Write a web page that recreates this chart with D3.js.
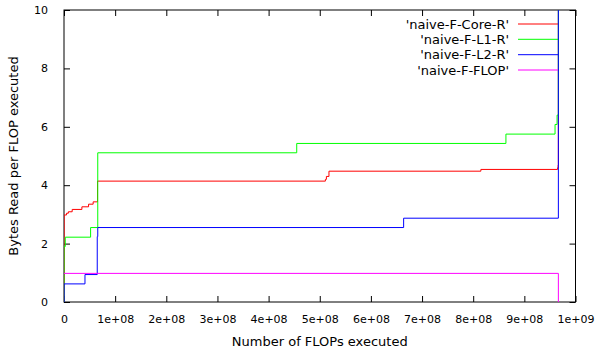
<!DOCTYPE html>
<html>
<head>
<meta charset="utf-8">
<script src="https://cdn.jsdelivr.net/npm/d3@7"></script>
<style>
    body { margin: 0; background: #fff; }
    svg { display: block; font-family: "DejaVu Sans", sans-serif; }
</style>
</head>
<body>
<div id="chart"></div>
<script>

// series names
const seriesNames = ["'naive-F-Core-R'", "'naive-F-L1-R'", "'naive-F-L2-R'", "'naive-F-FLOP'"];
const seriesColors = ['#ff0000', '#00ff00', '#0000ff', '#ff00ff'];

// step points: flops executed / bytes read per flop
const coreFlops = [0, 0.02e7, 0.5e7, 0.85e7, 1.6e7, 3.5e7, 4.8e7, 5.7e7, 6.55e7, 5.11e8, 5.13e8, 5.18e8, 8.15e8, 9.65e8, 9.66e8, 9.665e8];
const coreBytes = [0, 2.98, 3.04, 3.09, 3.17, 3.26, 3.35, 3.43, 4.14, 4.2, 4.3, 4.48, 4.54, 4.6, 4.69, 12];

const l1Flops = [0, 0.01e7, 0.25e7, 5.2e7, 6.6e7, 4.55e8, 8.64e8, 9.6e8, 9.64e8, 9.665e8];
const l1Bytes = [0, 1.9, 2.22, 2.55, 5.11, 5.43, 5.75, 6.08, 6.4, 12];

const l2Flops = [0, 0.02e7, 4.1e7, 6.5e7, 6.6e7, 6.64e8, 9.665e8];
const l2Bytes = [0, 0.62, 0.94, 2.24, 2.55, 2.87, 12];

const flopFlops = [0, 9.665e8];
const flopBytes = [0.98, 0];

// tick labels
const xTicks = [0, 1e8, 2e8, 3e8, 4e8, 5e8, 6e8, 7e8, 8e8, 9e8, 1e9];
const yTicks = [0, 2, 4, 6, 8, 10];

const width = 602;
const height = 351;
const margins = { top: 10, bottom: 49, left: 64, right: 26.5 };

const svg = d3.select('#chart')
    .append('svg')
    .attr('width', width)
    .attr('height', height);

// scales
const xScale = d3.scaleLinear()
    .domain([0, 1e9])
    .range([margins.left, width - margins.right]);

const yScale = d3.scaleLinear()
    .domain([0, 10])
    .range([height - margins.bottom, margins.top]);

const x0 = xScale.range()[0], x1 = xScale.range()[1];
const y0 = yScale.range()[0], y1 = yScale.range()[1];

// axes (inward ticks, mirrored on top and right)
const tickFormat = d => d === 0 ? '0' : d3.format('.0e')(d).replace(/e([+-])(\d)$/, 'e$10$2');

const xAxisGroup = svg.append('g')
    .attr('class', 'axis-group')
    .attr('transform', `translate(0,${y0})`)
    .call(d3.axisBottom(xScale).tickValues(xTicks).tickSizeInner(-6).tickSizeOuter(0).tickPadding(13).tickFormat(tickFormat));

const yAxisGroup = svg.append('g')
    .attr('class', 'axis-group')
    .attr('transform', `translate(${x0},0)`)
    .call(d3.axisLeft(yScale).tickValues(yTicks).tickSizeInner(-6).tickSizeOuter(0).tickPadding(16));

const topAxisGroup = svg.append('g')
    .attr('class', 'axis-group')
    .attr('transform', `translate(0,${y1})`)
    .call(d3.axisTop(xScale).tickValues(xTicks).tickSizeInner(-6).tickSizeOuter(0).tickFormat(''));

const rightAxisGroup = svg.append('g')
    .attr('class', 'axis-group')
    .attr('transform', `translate(${x1},0)`)
    .call(d3.axisRight(yScale).tickValues(yTicks).tickSizeInner(-6).tickSizeOuter(0).tickFormat(''));

svg.selectAll('.axis-group .domain').remove();
svg.selectAll('.axis-group line').attr('stroke', '#000');
svg.selectAll('.axis-group text')
    .attr('fill', '#000')
    .style('font-family', '"DejaVu Sans", sans-serif')
    .style('font-size', '11px');

// border
svg.append('rect')
    .attr('x', x0)
    .attr('y', y1)
    .attr('width', x1 - x0)
    .attr('height', y0 - y1)
    .attr('fill', 'none')
    .attr('stroke', '#000')
    .attr('stroke-width', 1);

// axis labels
svg.append('text')
    .attr('x', (x0 + x1) / 2)
    .attr('y', 346)
    .attr('text-anchor', 'middle')
    .style('font-size', '13px')
    .text('Number of FLOPs executed');

svg.append('text')
    .attr('transform', `translate(18,${(y0 + y1) / 2}) rotate(-90)`)
    .attr('text-anchor', 'middle')
    .style('font-size', '13px')
    .text('Bytes Read per FLOP executed');

// clip
svg.append('clipPath')
    .attr('id', 'plot-clip')
    .append('rect')
    .attr('x', x0)
    .attr('y', y1)
    .attr('width', x1 - x0)
    .attr('height', y0 - y1);

const lineGenerator = d3.line()
    .curve(d3.curveStepAfter)
    .x(d => xScale(d[0]))
    .y(d => yScale(d[1]));

const series = [
    d3.zip(coreFlops, coreBytes),
    d3.zip(l1Flops, l1Bytes),
    d3.zip(l2Flops, l2Bytes),
    d3.zip(flopFlops, flopBytes)
];

const legendRight = 509;
const legendY = [24, 39.3, 54.7, 70];

for (let i = 0; i < series.length; i++) {

    // key entry
    svg.append('text')
        .attr('x', legendRight)
        .attr('y', legendY[i])
        .attr('dy', '0.35em')
        .attr('text-anchor', 'end')
        .style('font-size', '13px')
        .text(seriesNames[i]);

    svg.append('line')
        .attr('x1', 518)
        .attr('x2', 558)
        .attr('y1', legendY[i])
        .attr('y2', legendY[i])
        .attr('stroke', seriesColors[i])
        .attr('stroke-width', 1);

    // step line
    svg.append('path')
        .datum(series[i])
        .attr('clip-path', 'url(#plot-clip)')
        .attr('fill', 'none')
        .attr('stroke', seriesColors[i])
        .attr('stroke-width', 1)
        .attr('d', lineGenerator);
}

</script>
</body>
</html>
